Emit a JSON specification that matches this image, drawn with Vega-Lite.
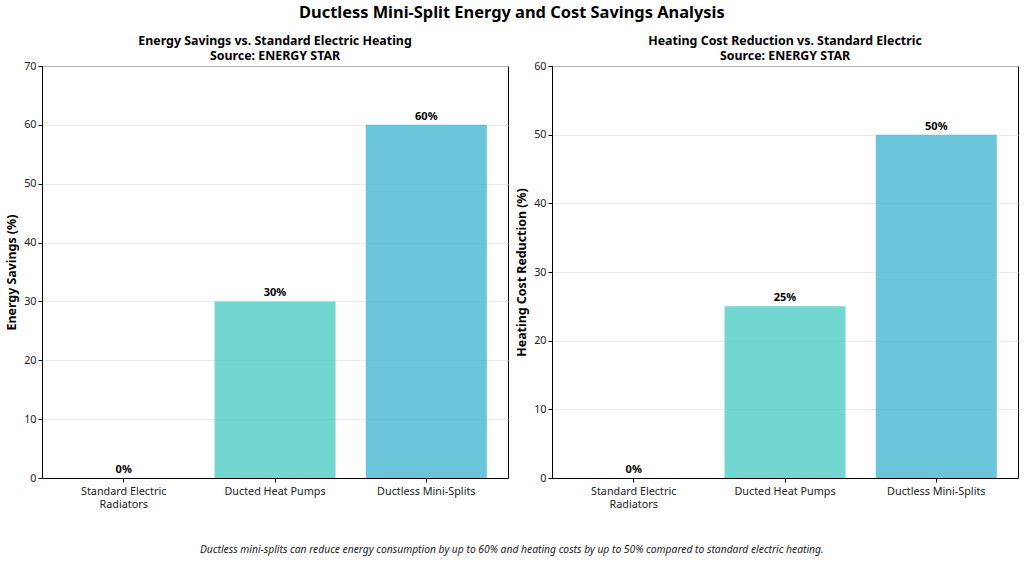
{
  "$schema": "https://vega.github.io/schema/vega-lite/v6.json",
  "background": "white",
  "padding": {"left": 5, "top": 5, "right": 3, "bottom": 5},
  "title": {"text": "Ductless Mini-Split Energy and Cost Savings Analysis", "fontSize": 16.4, "fontWeight": "bold", "font": "Noto Sans", "anchor": "middle", "color": "black", "offset": 12.5},
  "config": {
    "font": "Noto Sans",
    "view": {"stroke": "black", "strokeWidth": 1},
    "axis": {"labelFont": "Noto Sans", "labelFontSize": 10.8, "labelColor": "#222", "domainColor": "black", "tickColor": "black", "tickSize": 4, "titleFont": "Noto Sans", "titleFontSize": 12.4, "titleFontWeight": "bold", "titleColor": "black"},
    "title": {"font": "Noto Sans", "fontSize": 12.4, "fontWeight": "bold", "color": "black"},
    "concat": {"spacing": 6}
  },
  "vconcat": [
    {
      "title": {"text": "Ductless mini-splits can reduce energy consumption by up to 60% and heating costs by up to 50% compared to standard electric heating.", "orient": "bottom", "fontSize": 10.3, "fontStyle": "italic", "fontWeight": "normal", "anchor": "middle", "offset": 36, "color": "#222"},
      "hconcat": [
        {
          "title": {"text": ["Energy Savings vs. Standard Electric Heating", "Source: ENERGY STAR"], "fontSize": 12.4, "fontWeight": "bold", "offset": -2, "lineHeight": 15},
          "width": 466,
          "height": 412,
          "data": {"values": [
            {"category": "Standard Electric Radiators", "value": 0, "label": "0%"},
            {"category": "Ducted Heat Pumps", "value": 30, "label": "30%"},
            {"category": "Ductless Mini-Splits", "value": 60, "label": "60%"}
          ]},
          "encoding": {
            "x": {"field": "category", "type": "nominal", "sort": null, "scale": {"paddingInner": 0.2, "paddingOuter": 0.14},
              "axis": {"title": null, "labelAngle": 0, "labelLimit": 200, "labelExpr": "datum.label == 'Standard Electric Radiators' ? ['Standard Electric', 'Radiators'] : datum.label", "labelPadding": 3, "labelLineHeight": 13}},
            "y": {"field": "value", "type": "quantitative", "scale": {"domain": [0, 70], "nice": false},
              "axis": {"title": "Energy Savings (%)", "values": [0, 10, 20, 30, 40, 50, 60, 70], "gridColor": "#e6e6e6", "gridWidth": 0.8, "titlePadding": 5}}
          },
          "layer": [
            {"mark": {"type": "bar", "opacity": 0.8},
             "encoding": {"color": {"field": "category", "type": "nominal", "sort": null, "scale": {"domain": ["Standard Electric Radiators", "Ducted Heat Pumps", "Ductless Mini-Splits"], "range": ["#FF6B6B", "#4ECDC4", "#45B7D1"]}, "legend": null}}},
            {"mark": {"type": "text", "dy": -8, "fontWeight": "bold", "fontSize": 11, "color": "black"},
             "encoding": {"text": {"field": "label", "type": "nominal"}}}
          ]
        },
        {
          "title": {"text": ["Heating Cost Reduction vs. Standard Electric", "Source: ENERGY STAR"], "fontSize": 12.4, "fontWeight": "bold", "offset": -2, "lineHeight": 15},
          "width": 466,
          "height": 412,
          "data": {"values": [
            {"category": "Standard Electric Radiators", "value": 0, "label": "0%"},
            {"category": "Ducted Heat Pumps", "value": 25, "label": "25%"},
            {"category": "Ductless Mini-Splits", "value": 50, "label": "50%"}
          ]},
          "encoding": {
            "x": {"field": "category", "type": "nominal", "sort": null, "scale": {"paddingInner": 0.2, "paddingOuter": 0.14},
              "axis": {"title": null, "labelAngle": 0, "labelLimit": 200, "labelExpr": "datum.label == 'Standard Electric Radiators' ? ['Standard Electric', 'Radiators'] : datum.label", "labelPadding": 3, "labelLineHeight": 13}},
            "y": {"field": "value", "type": "quantitative", "scale": {"domain": [0, 60], "nice": false},
              "axis": {"title": "Heating Cost Reduction (%)", "values": [0, 10, 20, 30, 40, 50, 60], "gridColor": "#e6e6e6", "gridWidth": 0.8, "titlePadding": 5}}
          },
          "layer": [
            {"mark": {"type": "bar", "opacity": 0.8},
             "encoding": {"color": {"field": "category", "type": "nominal", "sort": null, "scale": {"domain": ["Standard Electric Radiators", "Ducted Heat Pumps", "Ductless Mini-Splits"], "range": ["#FF6B6B", "#4ECDC4", "#45B7D1"]}, "legend": null}}},
            {"mark": {"type": "text", "dy": -8, "fontWeight": "bold", "fontSize": 11, "color": "black"},
             "encoding": {"text": {"field": "label", "type": "nominal"}}}
          ]
        }
      ]
    }
  ]
}
